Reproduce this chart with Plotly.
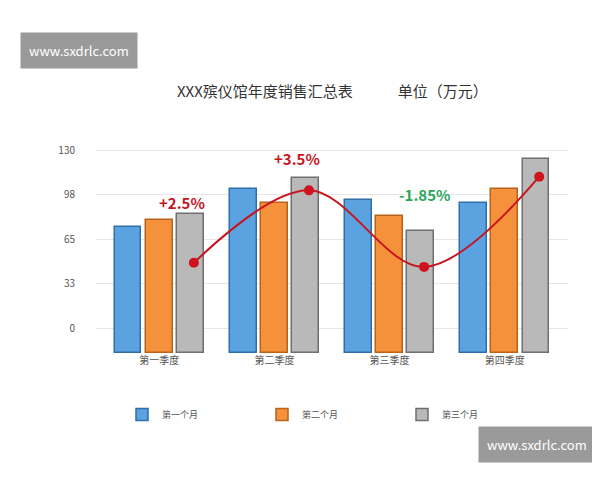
import plotly.graph_objects as go

quarters = ["第一季度", "第二季度", "第三季度", "第四季度"]
series_names = ["第一个月", "第二个月", "第三个月"]
month1 = [74, 102, 94, 92]
month2 = [79, 92, 82, 102]
month3 = [84, 110, 71, 124]
trend = [48, 101, 45, 111]
growth = ["+2.5%", "+3.5%", "-1.85%", "+4.27%"]
ticks = [0, 33, 65, 98, 130]

colors = ["#5aa2e0", "#f5913a", "#b9b9b9"]
edge = ["#2f6ea8", "#b8621a", "#6f6f6f"]
offsets = [-0.27, 0, 0.27]
base = -18

fig = go.Figure()
for vals, name, c, e, off in zip([month1, month2, month3], series_names, colors, edge, offsets):
    fig.add_trace(go.Bar(x=[i + off for i in range(4)], y=[v - base for v in vals], base=base,
                         width=0.23, name=name, marker=dict(color=c, line=dict(color=e, width=1.5))))

fig.add_trace(go.Scatter(x=[i + 0.3 for i in range(4)], y=trend, mode="lines+markers",
                         line=dict(color="#c8141e", width=2, shape="spline"),
                         marker=dict(color="#d0141e", size=10), showlegend=False))

label_x = [0.2, 1.2, 2.3, 3.3]
label_y = [92, 124, 98, 137]
for t, lx, ly in zip(growth, label_x, label_y):
    fig.add_annotation(x=lx, y=ly, text="<b>" + t + "</b>", showarrow=False,
                       font=dict(size=15, color="#2aa55a" if t.startswith("-") else "#c8141e"))

fig.add_annotation(xref="paper", yref="paper", x=0.5, y=1.34, showarrow=False,
                   text="XXX殡仪馆年度销售汇总表　　　单位（万元）",
                   font=dict(size=15, color="#333", family="Noto Sans CJK SC"))
fig.add_annotation(xref="paper", yref="paper", x=-0.161, y=1.566, xanchor="left", showarrow=False,
                   text="www.sxdrlc.com", bgcolor="#9a9a9a", borderpad=8,
                   font=dict(size=13, color="white"))
fig.add_annotation(xref="paper", yref="paper", x=1.059, y=-0.537, xanchor="right", showarrow=False,
                   text="www.sxdrlc.com", bgcolor="#9a9a9a", borderpad=8,
                   font=dict(size=13, color="white"))

fig.update_layout(
    width=600, height=480, plot_bgcolor="white", paper_bgcolor="white",
    margin=dict(l=88, r=40, t=140, b=135),
    font=dict(family="Noto Sans CJK SC", size=10, color="#555"),
    barmode="overlay", bargap=0,
    xaxis=dict(tickvals=list(range(4)), ticktext=quarters, range=[-0.55, 3.55],
               showgrid=False, zeroline=False, showline=False),
    yaxis=dict(tickvals=ticks, range=[base, 132], showgrid=True, gridcolor="#e6e6e6",
               zeroline=False, ticklabelstandoff=20),
    legend=dict(orientation="h", x=0.5, xanchor="center", y=-0.3, yanchor="middle",
                font=dict(size=9), entrywidth=95),
)

fig.write_html("out.html")
